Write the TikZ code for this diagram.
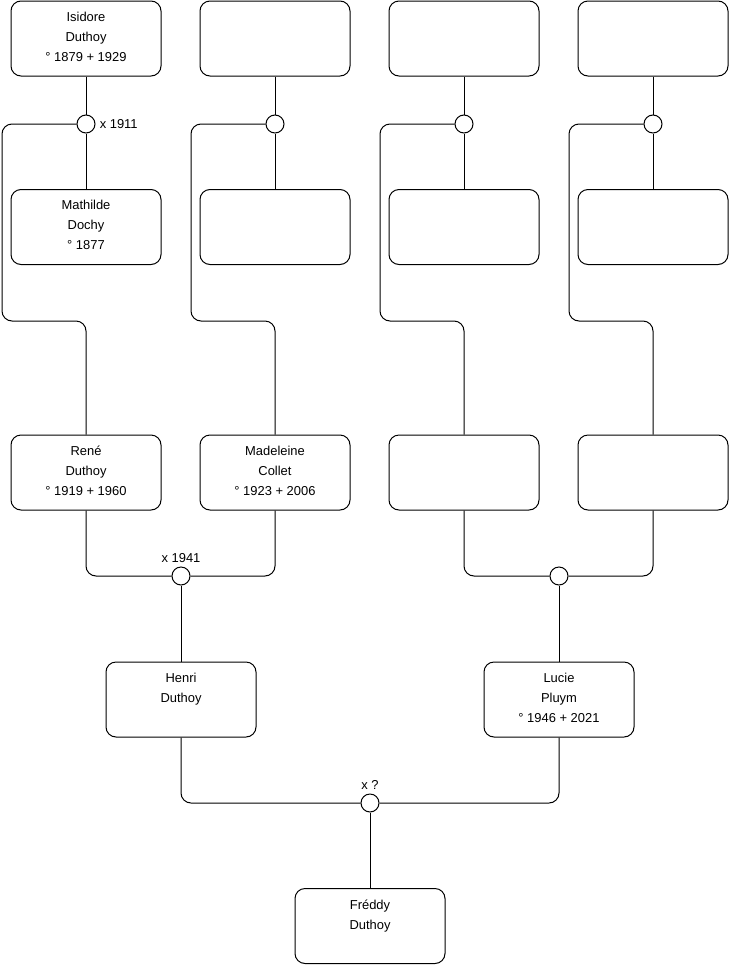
\documentclass[tikz,border=0pt]{standalone}
\usepackage{fontspec}
\setmainfont{Liberation Sans}
\usetikzlibrary{positioning}
\tikzset{
  box/.style={draw,rounded corners=7.5pt,line width=0.75pt,minimum width=112.5pt,minimum height=56.25pt,inner sep=0pt},
  boxtext/.style={anchor=north,align=center,inner sep=0pt,yshift=-8.5pt,font=\fontsize{9.7}{15}\selectfont},
  mariage/.style={draw,circle,fill=white,line width=0.75pt,minimum size=13.5pt,inner sep=0pt},
  datem/.style={inner sep=0pt,font=\fontsize{9.7}{11}\selectfont},
  link/.style={line width=0.75pt,rounded corners=7.5pt}
}
% une case de l'arbre : nom, position, texte
\newcommand{\personne}[3]{%
  \node[box] (#1) at (#2) {};
  \node[boxtext] (#1-t) at (#1.north) {#3};}
\begin{document}
\begin{tikzpicture}[x=0.75pt,y=-0.75pt]
  \useasboundingbox (0,0) rectangle (740,975);
  % generation 1 et 2
  \personne{isidore}{86,38.5}{Isidore\\Duthoy\\° 1879 + 1929}
  \personne{pere2}{275,38.5}{}
  \personne{pere3}{464,38.5}{}
  \personne{pere4}{653,38.5}{}
  \personne{mathilde}{86,227}{Mathilde\\Dochy\\° 1877}
  \personne{mere2}{275,227}{}
  \personne{mere3}{464,227}{}
  \personne{mere4}{653,227}{}
  \node[mariage] (m1911) at (86,124) {};
  \node[mariage] (m2) at (275,124) {};
  \node[mariage] (m3) at (464,124) {};
  \node[mariage] (m4) at (653,124) {};
  \node[datem,anchor=west] (d1911) at ([xshift=3pt]m1911.east) {x 1911};
  % generation 3
  \personne{rene}{86,472.5}{René\\Duthoy\\° 1919 + 1960}
  \personne{madeleine}{275,472.5}{Madeleine\\Collet\\° 1923 + 2006}
  \personne{enf3}{464,472.5}{}
  \personne{enf4}{653,472.5}{}
  \node[mariage] (m1941) at (181,576) {};
  \node[mariage] (mlucie) at (559,576) {};
  \node[datem,anchor=south] (d1941) at ([yshift=3pt]m1941.north) {x 1941};
  % generation 4 et 5
  \personne{henri}{181,699.5}{Henri\\Duthoy}
  \personne{lucie}{559,699.5}{Lucie\\Pluym\\° 1946 + 2021}
  \node[mariage] (mq) at (370,803) {};
  \node[datem,anchor=south] (dq) at ([yshift=3pt]mq.north) {x ?};
  \personne{freddy}{370,926}{Fréddy\\Duthoy}
  % liens
  \draw[link] (isidore) -- (m1911) -- (mathilde);
  \draw[link] (pere2) -- (m2) -- (mere2);
  \draw[link] (pere3) -- (m3) -- (mere3);
  \draw[link] (pere4) -- (m4) -- (mere4);
  \draw[link] (m1911.west) -| (2,321) -| (rene.north);
  \draw[link] (m2.west) -| (191,321) -| (madeleine.north);
  \draw[link] (m3.west) -| (380,321) -| (enf3.north);
  \draw[link] (m4.west) -| (569,321) -| (enf4.north);
  \draw[link] (rene.south) |- (m1941.west);
  \draw[link] (madeleine.south) |- (m1941.east);
  \draw[link] (enf3.south) |- (mlucie.west);
  \draw[link] (enf4.south) |- (mlucie.east);
  \draw[link] (m1941) -- (henri);
  \draw[link] (mlucie) -- (lucie);
  \draw[link] (henri.south) |- (mq.west);
  \draw[link] (lucie.south) |- (mq.east);
  \draw[link] (mq) -- (freddy);
\end{tikzpicture}
\end{document}
